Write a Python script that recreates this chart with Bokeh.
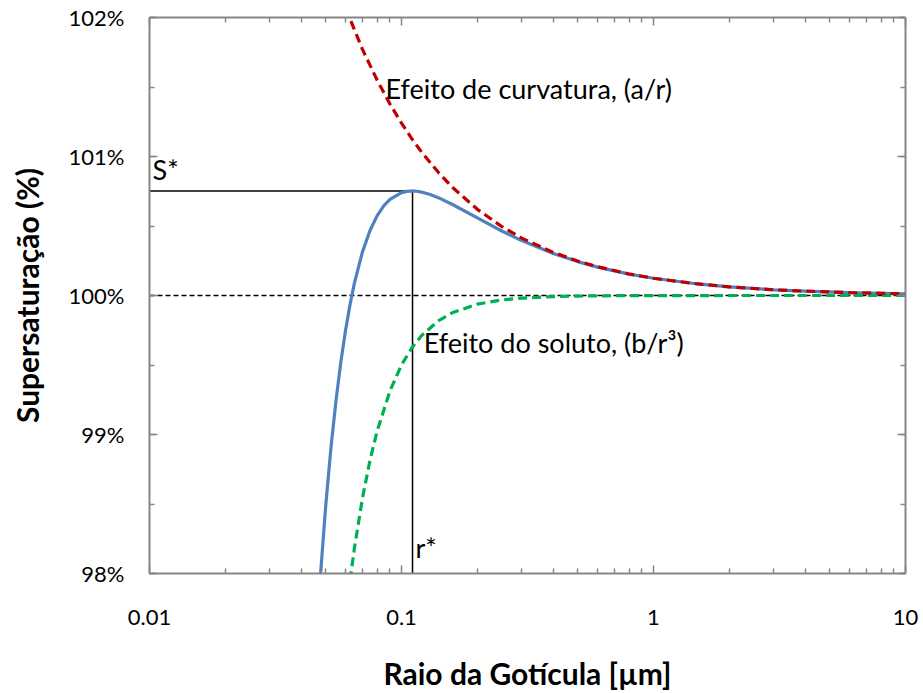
from bokeh.plotting import figure
from bokeh.models import (Range1d, LogAxis, LinearAxis, FixedTicker, SingleIntervalTicker,
                          PrintfTickFormatter, CustomJSTickFormatter, ColumnDataSource)
from bokeh.core.properties import value
from bokeh.embed import file_html
from bokeh.resources import INLINE

# ---- data ----
blue_r = [0.0475, 0.05, 0.0525, 0.055, 0.0575, 0.06, 0.0625, 0.065, 0.07, 0.075, 0.08, 0.085,
          0.09, 0.1, 0.105, 0.11, 0.115, 0.12, 0.13, 0.14, 0.16, 0.2, 0.25, 0.3, 0.4, 0.5, 0.6,
          0.8, 1, 1.5, 2, 3, 4, 6, 8, 10]
blue_s = [97.945, 98.48, 98.907, 99.249, 99.526, 99.752, 99.936, 100.087, 100.314, 100.468,
          100.573, 100.645, 100.692, 100.740, 100.749, 100.752, 100.750, 100.744, 100.726,
          100.704, 100.653, 100.558, 100.464, 100.395, 100.302, 100.244, 100.204, 100.154,
          100.124, 100.083, 100.062, 100.041, 100.031, 100.021, 100.016, 100.012]

red_r = [0.06, 0.07, 0.08, 0.09, 0.1, 0.11, 0.12, 0.14, 0.16, 0.2, 0.25, 0.3, 0.4, 0.5, 0.6,
         0.8, 1, 1.5, 2, 3, 4, 6, 8, 10]
red_s = [102.067, 101.771, 101.550, 101.378, 101.240, 101.127, 101.033, 100.886, 100.775,
         100.620, 100.496, 100.413, 100.310, 100.248, 100.207, 100.155, 100.124, 100.083,
         100.062, 100.041, 100.031, 100.021, 100.016, 100.012]

green_r = [0.0625, 0.065, 0.07, 0.075, 0.08, 0.09, 0.1, 0.11, 0.12, 0.14, 0.16, 0.2, 0.25,
           0.3, 0.4, 0.5, 0.7, 1, 2, 5, 10]
green_s = [97.952, 98.179, 98.542, 98.815, 99.023, 99.314, 99.500, 99.624, 99.711, 99.818,
           99.878, 99.938, 99.968, 99.981, 99.992, 99.996, 99.9985, 99.9995, 99.9999, 100.0,
           100.0]

ref_r = [0.01, 10]
ref_s = [100, 100]

r_star = 0.1106
s_star = 100.752

x_ticks = [0.01, 0.1, 1, 10]
x_minor = [0.02, 0.03, 0.04, 0.05, 0.06, 0.07, 0.08, 0.09,
           0.2, 0.3, 0.4, 0.5, 0.6, 0.7, 0.8, 0.9,
           2, 3, 4, 5, 6, 7, 8, 9]

label_text = ["Efeito de curvatura, (a/r)", "Efeito do soluto, (b/r\u00b3)", "S*", "r*"]
label_r = [0.0864, 0.1225, 0.01028, 0.1136]
label_s = [101.49, 99.66, 100.91, 98.185]

FONT = "Lato"
AXIS_GRAY = "#868686"

p = figure(width=923, height=693, x_axis_type="log",
           x_range=Range1d(0.01, 10), y_range=Range1d(98, 102),
           output_backend="svg", toolbar_location=None,
           min_border_left=149, min_border_right=18, min_border_top=17, min_border_bottom=120)
p.xgrid.grid_line_color = None
p.ygrid.grid_line_color = None
p.outline_line_color = None
p.background_fill_color = "white"
p.border_fill_color = "white"

xt = FixedTicker(ticks=x_ticks, minor_ticks=x_minor)
yt = SingleIntervalTicker(interval=1, num_minor_ticks=2)


def style(ax):
    ax.axis_line_color = AXIS_GRAY
    ax.axis_line_width = 2
    ax.major_tick_line_color = AXIS_GRAY
    ax.minor_tick_line_color = AXIS_GRAY
    ax.major_tick_line_width = 1.5
    ax.minor_tick_line_width = 1.5
    ax.major_tick_in = 8
    ax.major_tick_out = 0
    ax.minor_tick_in = 5
    ax.minor_tick_out = 0
    ax.major_label_text_font = FONT
    ax.major_label_text_font_size = "22px"
    ax.major_label_text_color = "black"
    ax.axis_label_text_font = FONT
    ax.axis_label_text_font_style = "bold"
    ax.axis_label_text_font_size = "30px"
    ax.axis_label_text_color = "black"


xa = p.xaxis[0]
xa.ticker = xt
xa.formatter = CustomJSTickFormatter(code="return tick.toString();")
style(xa)
xa.axis_label = "Raio da Gotícula [µm]"
xa.major_label_standoff = 36
xa.axis_label_standoff = 27

ya = p.yaxis[0]
ya.ticker = yt
ya.formatter = PrintfTickFormatter(format="%d%%")
style(ya)
ya.axis_label = "Supersaturação (%)"
ya.major_label_standoff = 25
ya.axis_label_standoff = 21

empty = CustomJSTickFormatter(code="return '';")
top = LogAxis(ticker=xt, formatter=empty)
style(top)
top.major_label_standoff = 0
top.major_label_text_font_size = "1px"
p.add_layout(top, "above")
right = LinearAxis(ticker=yt, formatter=empty)
style(right)
right.major_label_standoff = 0
right.major_label_text_font_size = "1px"
p.add_layout(right, "right")

# reference 100% line, S* and r* guide lines
p.line(ref_r, ref_s, line_color="black", line_width=1.5, line_dash="5 3")
p.line([x_ticks[0], r_star], [s_star, s_star], line_color="black", line_width=1.5)
p.line([r_star, r_star], [98, s_star], line_color="black", line_width=1.5)

p.line(blue_r, blue_s, line_color="#4F81BD", line_width=3.2)
p.line(green_r, green_s, line_color="#00B050", line_width=3.2, line_dash="9 5")
p.line(red_r, red_s, line_color="#C00000", line_width=3.2, line_dash="9 5")

src = ColumnDataSource(dict(x=label_r, y=label_s, t=label_text))
p.text(x="x", y="y", text="t", source=src, text_font=value(FONT),
       text_font_size=value("27px"), text_baseline="alphabetic", text_align="left",
       text_color="black")

open("out.html", "w").write(file_html(p, INLINE))
